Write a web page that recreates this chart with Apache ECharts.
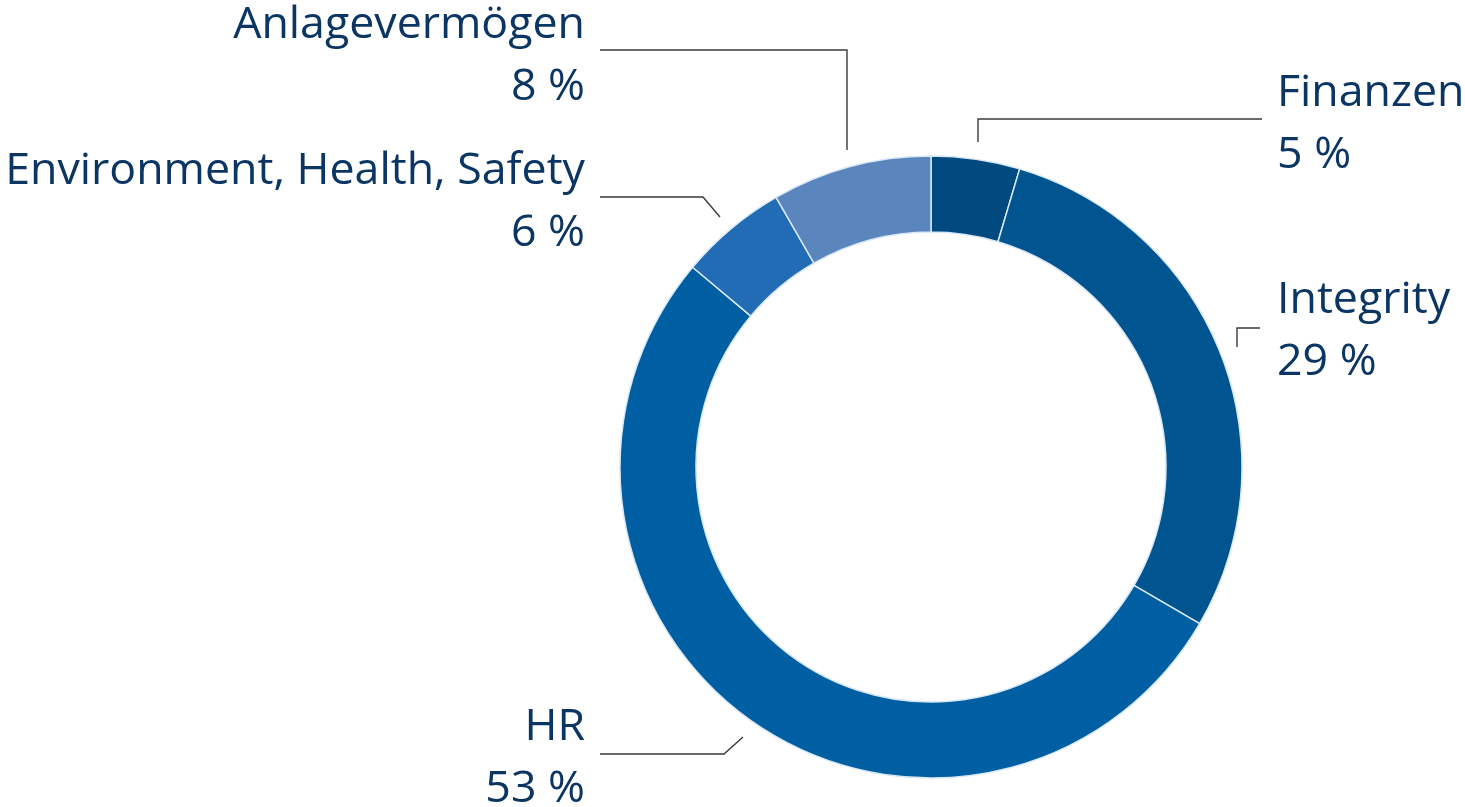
<!DOCTYPE html>
<html><head><meta charset="utf-8">
<script src="https://cdn.jsdelivr.net/npm/echarts@6/dist/echarts.min.js"></script>
<style>html,body{margin:0;padding:0;background:#fff}#c{width:1465px;height:807px}</style>
</head><body><div id="c"></div>
<script>
const categories = ['Finanzen', 'Integrity', 'HR', 'Environment, Health, Safety', 'Anlagevermögen'];
const shares = [4.6, 28.8, 52.7, 5.6, 8.3];      // slice sizes as read from the ring
const percentLabels = [5, 29, 53, 6, 8];          // rounded percentages as printed
const colors = ['#004a80', '#00548f', '#005fa3', '#226cb5', '#5b86bd'];

// label placement (layout only)
const labelPos = [
  {x: 1277, y: 124, align: 'left',  line: [[978, 142], [978, 119], [1262, 119]]},
  {x: 1277, y: 331, align: 'left',  line: [[1237, 347], [1237, 328], [1260, 328]]},
  {x: 585,  y: 758, align: 'right', line: [[743, 737], [724, 754], [600, 754]]},
  {x: 585,  y: 202, align: 'right', line: [[720, 217], [703, 197], [600, 197]]},
  {x: 585,  y: 56,  align: 'right', line: [[847, 150], [847, 50], [600, 50]]}
];

const chart = echarts.init(document.getElementById('c'), null, {renderer: 'canvas'});
chart.setOption({
  animation: false,
  series: [{
    type: 'pie',
    center: [931, 467],
    radius: [235, 311],
    startAngle: 90,
    clockwise: true,
    data: categories.map((n, i) => ({name: n, value: shares[i], itemStyle: {color: colors[i]}})),
    itemStyle: {borderColor: '#d8e8f6', borderWidth: 1.5},
    label: {
      show: true,
      formatter: p => p.name + '\n' + percentLabels[p.dataIndex] + ' %',
      fontFamily: 'Open Sans',
      fontSize: 44.7,
      lineHeight: 62,
      color: '#0b3563'
    },
    labelLine: {show: true, lineStyle: {color: '#3a3a3a', width: 1.4}},
    labelLayout: function (p) {
      const L = labelPos[p.dataIndex];
      return {x: L.x, y: L.y, align: L.align, verticalAlign: 'middle', labelLinePoints: L.line};
    },
    emphasis: {disabled: true}
  }]
});
</script></body></html>
